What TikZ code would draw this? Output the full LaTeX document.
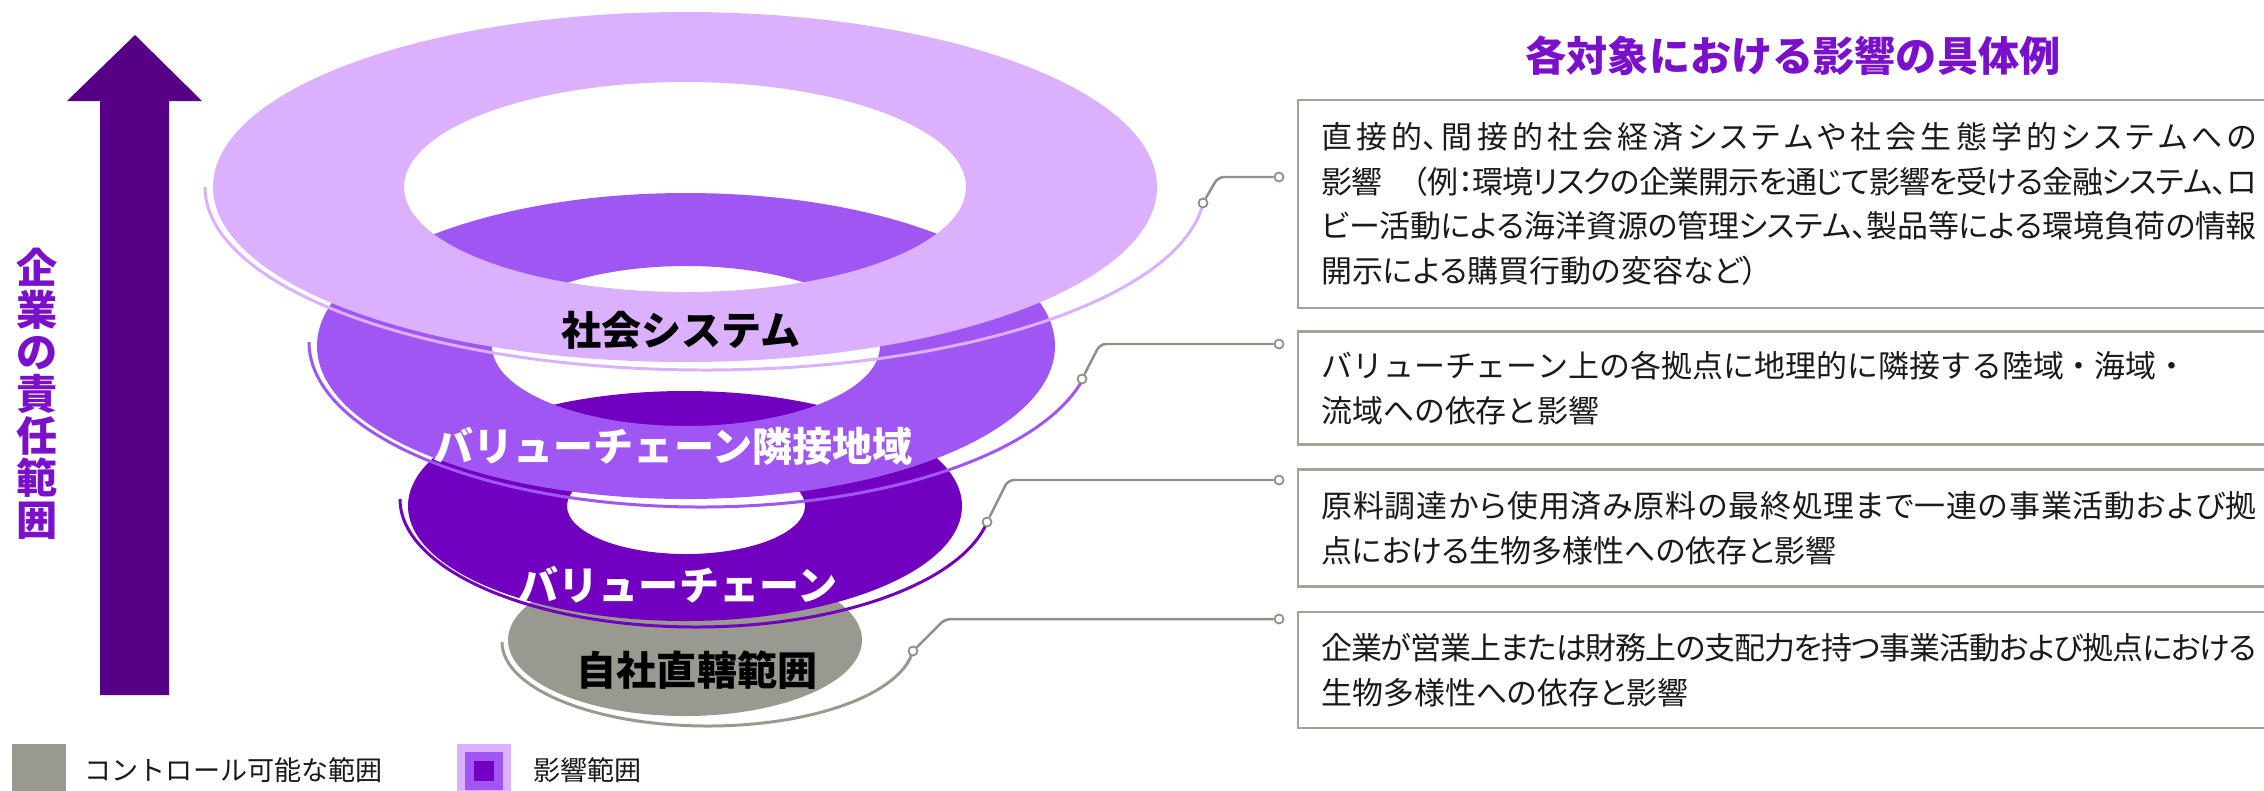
\documentclass[tikz,border=0pt]{standalone}
\usepackage{fontspec}
\usepackage{xcolor}
\setmainfont{Noto Sans CJK JP}
\newfontfamily\jpbody[RawFeature=+palt]{Noto Sans CJK JP}
\XeTeXlinebreaklocale "ja"
\XeTeXlinebreakskip=0pt plus 3pt minus 1pt
\setlength{\parindent}{0pt}
\tolerance=9999

\definecolor{lav}{HTML}{DBB1FD}
\definecolor{med}{HTML}{A056F2}
\definecolor{deep}{HTML}{7200C0}
\definecolor{arrowcol}{HTML}{560088}
\definecolor{own}{HTML}{9A998F}
\definecolor{headcol}{HTML}{7B10CC}
\definecolor{conngray}{HTML}{8F8F86}
\definecolor{boxgray}{HTML}{A3A39A}
\definecolor{ink}{HTML}{1A1A1A}

\begin{document}
\begin{tikzpicture}[x=0.01cm, y=-0.01cm, inner sep=0pt,
		lbl/.style={font=\fontsize{11.4}{13}\selectfont\bfseries},
		desc/.style={draw=boxgray, line width=0.7pt, anchor=west, text width=9.35cm, inner xsep=0.23cm, align=justify, text=ink, font=\jpbody\fontsize{8.8}{12.7}\selectfont},
		pin/.style={circle, draw=conngray, fill=white, line width=0.5pt, minimum size=0.09cm},
		conn/.style={conngray, line width=0.7pt, rounded corners=0.06cm},
		key/.style={anchor=west, text=ink, font=\fontsize{7.7}{9}\selectfont}]
		\useasboundingbox (0, 0) rectangle (2264, 790);

			\fill[arrowcol] (100, 695) -- (100, 101) -- (67, 101) -- (135, 35) -- (202, 101) -- (169, 101) -- (169, 695) -- cycle;
			\node[text=headcol, align=center, font=\fontsize{11.7}{11.95}\selectfont\bfseries] (resp) at (37, 394) {企\\業\\の\\責\\任\\範\\囲};

			\fill[own] (685, 640) ellipse [x radius=177, y radius=76];
			\draw[own, line width=0.85pt] (502, 642) arc[start angle=180, end angle=6, x radius=206, y radius=84];
			\fill[deep, even odd rule] (685, 506) ellipse [x radius=277, y radius=115] (686, 506) ellipse [x radius=119, y radius=48];
			\draw[deep, line width=0.85pt] (400, 499) arc[start angle=180, end angle=10, x radius=296, y radius=128];
			\fill[med, even odd rule] (686, 346) ellipse [x radius=369, y radius=153] (686, 346) ellipse [x radius=194, y radius=80];
			\draw[med, line width=0.85pt] (309, 342) arc[start angle=180, end angle=13, x radius=392, y radius=165];
			\fill[lav, even odd rule] (685, 187) ellipse [x radius=472, y radius=175] (685, 187) ellipse [x radius=281, y radius=105];
			\draw[lav, line width=0.85pt] (205, 187) arc[start angle=180, end angle=5, x radius=500, y radius=183];

			\node[lbl, text=black] (soclbl) at (681, 330) {社会システム};
			\node[lbl, text=white] (adjlbl) at (673, 446) {バリューチェーン隣接地域};
			\node[lbl, text=white] (vclbl) at (678, 585) {バリューチェーン};
			\node[lbl, text=black] (ownlbl) at (697, 670) {自社直轄範囲};

			\node[text=headcol, font=\fontsize{11.7}{13}\selectfont\bfseries] (title) at (1793, 56) {各対象における影響の具体例};

			\node[desc, minimum height=2.08cm] (socbox) at (1297, 204) {直接的、間接的社会経済システムや社会生態学的システムへの\linebreak 影響　（例：環境リスクの企業開示を通じて影響を受ける金融システム、ロ\linebreak ビー活動による海洋資源の管理システム、製品等による環境負荷の情報\linebreak 開示による購買行動の変容など）};
			\node[desc, minimum height=1.13cm, font=\rmfamily\fontsize{8.8}{12.7}\selectfont] (adjbox) at (1297, 388) {バリューチェーン上の各拠点に地理的に隣接する陸域・海域・\newline 流域への依存と影響};
			\node[desc, minimum height=1.17cm] (vcbox) at (1297, 528) {原料調達から使用済み原料の最終処理まで一連の事業活動および拠\linebreak 点における生物多様性への依存と影響};
			\node[desc, minimum height=1.16cm] (ownbox) at (1297, 670) {企業が営業上または財務上の支配力を持つ事業活動および拠点における\linebreak 生物多様性への依存と影響};

			\coordinate (k1) at (1218, 177);
			\coordinate (k2) at (1100, 344);
			\coordinate (k3) at (1008, 480);
			\coordinate (k4) at (945, 619);
			\node[pin] (s1) at (1203, 203) {};
			\node[pin] (e1) at (1279, 177) {};
			\node[pin] (s2) at (1082, 379) {};
			\node[pin] (e2) at (1279, 344) {};
			\node[pin] (s3) at (987, 522) {};
			\node[pin] (e3) at (1279, 480) {};
			\node[pin] (s4) at (913, 651) {};
			\node[pin] (e4) at (1279, 619) {};
			\draw[conn] (s1) -- (k1) -- (e1);
			\draw[conn] (s2) -- (k2) -- (e2);
			\draw[conn] (s3) -- (k3) -- (e3);
			\draw[conn] (s4) -- (k4) -- (e4);

			\fill[own] (12, 744) rectangle (66, 798);
			\node[key] (ctrlkey) at (84, 770) {コントロール可能な範囲};
			\fill[lav] (457, 744) rectangle (511, 798);
			\fill[med] (465, 752) rectangle (503, 790);
			\fill[deep] (474, 761) rectangle (494, 781);
			\node[key] (impkey) at (533, 770) {影響範囲};
		\end{tikzpicture}
\end{document}
